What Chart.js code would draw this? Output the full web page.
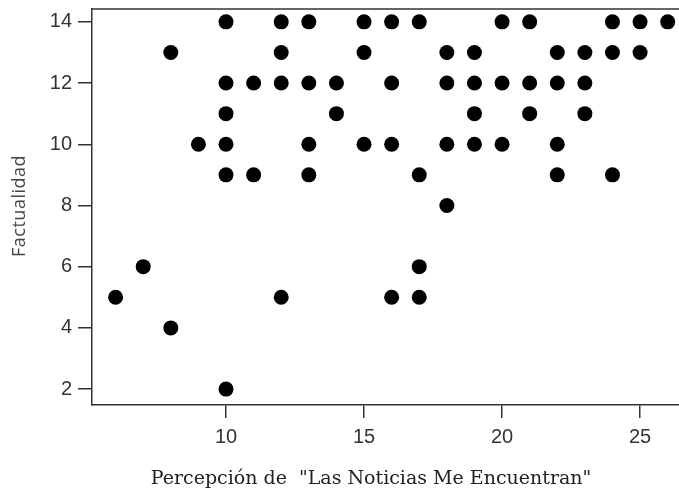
<!DOCTYPE html>
<html><head><meta charset="utf-8">
<script src="https://cdn.jsdelivr.net/npm/chart.js@4"></script>
<style>html,body{margin:0;padding:0;background:#fff}#w{width:679px;height:490px}</style>
</head><body><div id="w"><canvas id="c" width="679" height="490"></canvas></div>
<script>
const xVals = [6,7,8,8,9,10,10,10,10,10,10,11,11,12,12,12,12,13,13,13,13,14,14,15,15,15,16,16,16,16,17,17,17,17,18,18,18,18,19,19,19,19,20,20,20,21,21,21,22,22,22,22,23,23,23,24,24,24,25,25,26];
const yVals = [5,6,13,4,10,14,12,11,10,9,2,12,9,14,13,12,5,14,12,10,9,12,11,14,13,10,14,12,10,5,14,9,6,5,13,12,10,8,13,12,11,10,14,12,10,14,12,11,13,12,10,9,13,12,11,14,13,9,14,13,14];
const xTicks = [10,15,20,25];
const yTicks = [2,4,6,8,10,12,14];
const xTitle = 'Percepción de  "Las Noticias Me Encuentran"';
const yTitle = 'Factualidad';

const points = xVals.map((x,i)=>({x:x,y:yVals[i]}));

const frame = {
  id:'frame',
  afterDraw(chart){
    const {ctx, chartArea:a} = chart;
    ctx.save();
    ctx.strokeStyle='#333';
    ctx.lineWidth=1.5;
    ctx.beginPath();
    ctx.moveTo(a.left, a.top); ctx.lineTo(a.right, a.top);
    ctx.stroke();
    ctx.fillStyle='#222';
    ctx.font='19px "DejaVu Serif"';
    ctx.textAlign='center'; ctx.textBaseline='alphabetic';
    ctx.fillText(xTitle, 371, 484);
    ctx.translate(20, 206);
    ctx.rotate(-Math.PI/2);
    ctx.fillStyle='#444';
    ctx.font='18px "Open Sans"';
    try{ ctx.letterSpacing='0.5px'; }catch(e){}
    ctx.textBaseline='middle';
    ctx.fillText(yTitle, 0, 0);
    ctx.restore();
  }
};

new Chart(document.getElementById('c'), {
  type:'scatter',
  data:{datasets:[{data:points, backgroundColor:'#000', borderColor:'#000', pointRadius:7.5, pointHoverRadius:7.5, borderWidth:0}]},
  options:{
    responsive:false, animation:false, devicePixelRatio:1,
    layout:{autoPadding:false, padding:{top:9,right:0,left:0,bottom:0}},
    plugins:{legend:{display:false}, tooltip:{enabled:false}},
    scales:{
      x:{type:'linear', min:5.145, max:26.41,
        afterBuildTicks(s){ s.ticks = xTicks.map(v=>({value:v})); },
        afterFit(s){ s.height = 85; s.paddingLeft = 0; s.paddingRight = 0; },
        grid:{drawOnChartArea:false, drawTicks:true, tickLength:13, color:'#333', lineWidth:1.5},
        border:{display:true, color:'#333', width:1.5},
        ticks:{color:'#333', font:{family:'Liberation Sans', size:20}, padding:7, maxRotation:0, autoSkip:false}
      },
      y:{type:'linear', min:1.48, max:14.42,
        afterBuildTicks(s){ s.ticks = yTicks.map(v=>({value:v})); },
        afterFit(s){ s.width = 92; s.paddingTop = 0; s.paddingBottom = 0; },
        grid:{drawOnChartArea:false, drawTicks:true, tickLength:14, color:'#333', lineWidth:1.5},
        border:{display:true, color:'#333', width:1.5},
        ticks:{color:'#333', font:{family:'Liberation Sans', size:20}, padding:6, autoSkip:false}
      }
    }
  },
  plugins:[frame]
});
</script></body></html>
